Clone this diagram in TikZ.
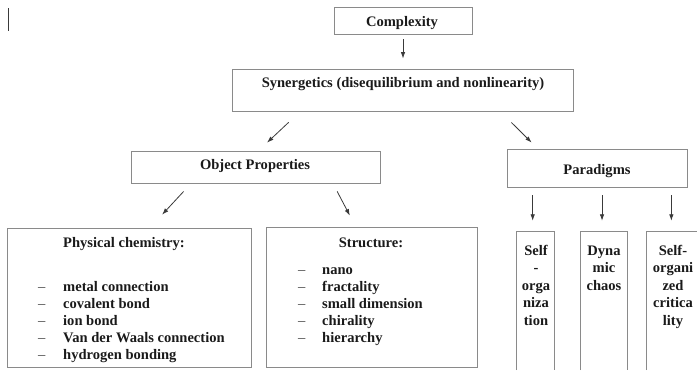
\documentclass[tikz,border=0pt]{standalone}
\usepackage{fontspec}
\setmainfont{Liberation Serif}
\usetikzlibrary{arrows.meta,calc}
\definecolor{boxgray}{HTML}{8A8A8A}
\definecolor{arrgray}{HTML}{3A3A3A}
\definecolor{txtblack}{HTML}{1A1A1A}
\begin{document}
\begin{tikzpicture}[x=1bp,y=-1bp,
  boxnode/.style={draw=boxgray,line width=0.9bp,rectangle,inner sep=0pt,minimum width=#1},
  openbox/.style={rectangle,inner sep=0pt},
  txt/.style={inner sep=0pt,text=txtblack,font=\fontsize{14.6}{17.5}\selectfont\bfseries},
  dsh/.style={inner sep=0pt,text=arrgray,font=\fontsize{14.6}{17.5}\selectfont},
  arr/.style={draw=arrgray,line width=0.8bp,-{Latex[length=6.5bp,width=4.5bp]}},
  edgeline/.style={draw=boxgray,line width=0.9bp}
]
\useasboundingbox (0,0) rectangle (697,370);

% stray mark
\coordinate (m1) at (8,8);
\coordinate (m2) at (8,31);
\draw[draw=arrgray,line width=1bp] (m1) -- (m2);

% boxes
\node[boxnode=138bp,minimum height=27bp] (cx) at (403,20.5) {};
\node[boxnode=341bp,minimum height=42bp] (syn) at (402.5,90) {};
\node[boxnode=249bp,minimum height=32bp] (op) at (255.5,167) {};
\node[boxnode=180bp,minimum height=38bp] (par) at (597,168) {};
\node[boxnode=244bp,minimum height=139bp] (pc) at (129,297.5) {};
\node[boxnode=211bp,minimum height=140bp] (st) at (371.5,297) {};

% open paradigm boxes
\node[openbox,minimum width=37.5bp,minimum height=138bp] (so) at (535.25,301) {};
\node[openbox,minimum width=46bp,minimum height=138bp] (dc) at (604,301) {};
\node[openbox,minimum width=50bp,minimum height=138bp] (soc) at (672,301) {};
\draw[edgeline] (so.south west) -- (so.north west) -- (so.north east) -- (so.south east);
\draw[edgeline] (dc.south west) -- (dc.north west) -- (dc.north east) -- (dc.south east);
\draw[edgeline] (soc.south west) -- (soc.north west) -- (soc.north east);

% titles
\node[txt,anchor=base] (cxT) at (402,26) {Complexity};
\node[txt,anchor=base] (synT) at (403,87) {Synergetics (disequilibrium and nonlinearity)};
\node[txt,anchor=base] (opT) at (255,169) {Object Properties};
\node[txt,anchor=base] (parT) at (597,174) {Paradigms};
\node[txt,anchor=base] (pcT) at (124,247) {Physical chemistry:};
\node[txt,anchor=base] (stT) at (371,247) {Structure:};

% lists
\foreach \t [count=\i] in {metal connection,covalent bond,ion bond,Van der Waals connection,hydrogen bonding}{
  \node[dsh,anchor=base west] (pcD\i) at (38,{291+17*(\i-1)}) {\textendash};
  \node[txt,anchor=base west] (pcI\i) at (63,{291+17*(\i-1)}) {\t};
}
\foreach \t [count=\i] in {nano,fractality,small dimension,chirality,hierarchy}{
  \node[dsh,anchor=base west] (stD\i) at (298,{274+17*(\i-1)}) {\textendash};
  \node[txt,anchor=base west] (stI\i) at (322,{274+17*(\i-1)}) {\t};
}

% paradigm box texts
\foreach \t [count=\i] in {Self,-,orga,niza,tion}{
  \node[txt,anchor=base] (soT\i) at (536,{255+17.5*(\i-1)}) {\t};
}
\foreach \t [count=\i] in {Dyna,mic,chaos}{
  \node[txt,anchor=base] (dcT\i) at (604,{255+17.5*(\i-1)}) {\t};
}
\foreach \t [count=\i] in {Self-,organi,zed,critica,lity}{
  \node[txt,anchor=base] (socT\i) at (673,{255+17.5*(\i-1)}) {\t};
}

% arrows
\draw[arr,shorten <=5bp,shorten >=10bp] (cx.south) -- (cx.south |- syn.north);
\draw[arr,shorten <=15.9bp,shorten >=11.6bp]
  ($(syn.south west)!0.2009!(syn.south east)$) -- ($(op.north west)!0.5125!(op.north east)$);
\draw[arr,shorten <=15.6bp,shorten >=8.5bp]
  ($(syn.south west)!0.786!(syn.south east)$) -- ($(par.north west)!0.172!(par.north east)$);
\draw[arr,shorten <=10.9bp,shorten >=17.6bp]
  ($(op.south west)!0.242!(op.south east)$) -- ($(pc.north west)!0.5865!(pc.north east)$);
\draw[arr,shorten <=9bp,shorten >=12.4bp]
  ($(op.south west)!0.810!(op.south east)$) -- ($(st.north west)!0.425!(st.north east)$);
\coordinate (p1) at ($(par.south west)!0.1444!(par.south east)$);
\coordinate (p2) at ($(par.south west)!0.5278!(par.south east)$);
\coordinate (p3) at ($(par.south west)!0.911!(par.south east)$);
\draw[arr,shorten <=8bp,shorten >=11bp] (p1) -- (p1 |- so.north);
\draw[arr,shorten <=8bp,shorten >=11bp] (p2) -- (p2 |- dc.north);
\draw[arr,shorten <=8bp,shorten >=11bp] (p3) -- (p3 |- soc.north);
\end{tikzpicture}
\end{document}
